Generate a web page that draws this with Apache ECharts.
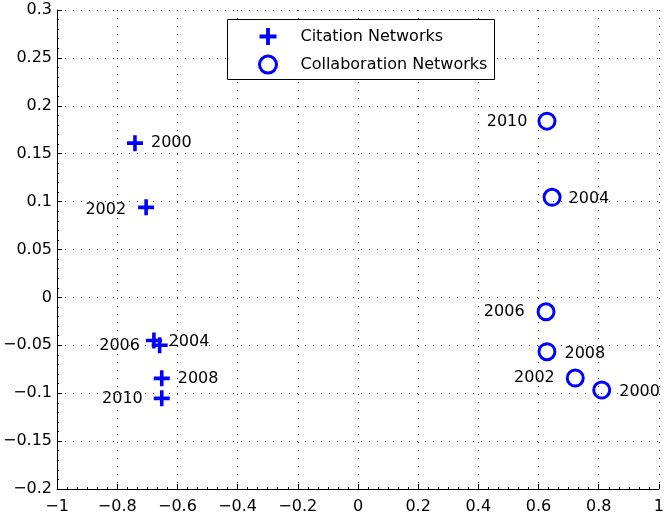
<!DOCTYPE html>
<html>
<head>
<meta charset="utf-8">
<script src="https://cdn.jsdelivr.net/npm/echarts@6/dist/echarts.min.js"></script>
<style>
  html, body { margin: 0; padding: 0; background: #fff; }
  #chart { width: 667px; height: 518px; }
</style>
</head>
<body>
<div id="chart"></div>
<script>
// Years shared by both network families
const years = ['2000', '2002', '2004', '2006', '2008', '2010'];

// Citation networks (plus markers)
const citationX = [-0.741, -0.704, -0.659, -0.678, -0.652, -0.652];
const citationY = [0.161, 0.094, -0.050, -0.045, -0.0845, -0.1054];

// Collaboration networks (circle markers)
const collabX = [0.810, 0.722, 0.645, 0.625, 0.628, 0.628];
const collabY = [-0.0967, -0.0842, 0.1045, -0.015, -0.0567, 0.184];

// Axis ranges and steps
const xRange = [-1, 1, 0.2];
const yRange = [-0.2, 0.3, 0.05];

// Where each year label sits next to its marker: [side, distance, vertical shift]
const citationLabelPlacement = {
  '2000': ['right', 8, 0], '2002': ['left', 12, 2], '2004': ['right', 1, -3],
  '2006': ['left', 6, 5], '2008': ['right', 8, 0], '2010': ['left', 11, 0]
};
const collabLabelPlacement = {
  '2000': ['right', 8, 2], '2002': ['left', 11, 0], '2004': ['right', 7, 2],
  '2006': ['left', 12, 0], '2008': ['right', 8, 2], '2010': ['left', 10, 1]
};

const FONT = 'DejaVu Sans';
const FS = 16;
const BLUE = '#0000ff';
const PLUS = 'path://M6.2,0H9.8V6.2H16V9.8H9.8V16H6.2V9.8H0V6.2H6.2Z';

function buildPoints(xs, ys, placement) {
  return years.map((yr, i) => {
    const p = placement[yr];
    return {
      value: [xs[i], ys[i]],
      name: yr,
      label: { position: p[0], distance: p[1], offset: [0, p[2]] }
    };
  });
}

function tickText(v) {
  const s = String(parseFloat(v.toFixed(4)));
  return s.replace('-', '\u2212');
}

const gridLine = { show: true, lineStyle: { color: '#333', width: 1, type: [1, 7] } };

const chart = echarts.init(document.getElementById('chart'));
chart.setOption({
  animation: false,
  backgroundColor: '#fff',
  textStyle: { fontFamily: FONT },
  grid: { left: 57, right: 5, top: 10, bottom: 29, containLabel: false },
  xAxis: {
    type: 'value', min: xRange[0], max: xRange[1], interval: xRange[2],
    axisLine: { show: true, onZero: false, lineStyle: { color: '#000', width: 1 } },
    axisTick: { show: true, inside: true, length: 5, lineStyle: { color: '#000' } },
    minorTick: { show: true, splitNumber: 6, length: 2, lineStyle: { color: '#000' } },
    axisLabel: { color: '#000', fontSize: FS, fontFamily: FONT, margin: 10, formatter: tickText },
    splitLine: gridLine
  },
  yAxis: {
    type: 'value', min: yRange[0], max: yRange[1], interval: yRange[2],
    axisLine: { show: true, onZero: false, lineStyle: { color: '#000', width: 1 } },
    axisTick: { show: true, inside: true, length: 5, lineStyle: { color: '#000' } },
    minorTick: { show: true, splitNumber: 5, length: 2, lineStyle: { color: '#000' } },
    axisLabel: { color: '#000', fontSize: FS, fontFamily: FONT, margin: 5, formatter: tickText },
    splitLine: gridLine
  },
  graphic: [{
    type: 'rect', z: 10,
    shape: { x: 227.5, y: 19.5, width: 267, height: 60 },
    style: { fill: '#fff', stroke: '#000', lineWidth: 1 }
  }],
  legend: {
    z: 20, orient: 'vertical', left: 258, top: 28, padding: 0,
    itemWidth: 17, itemHeight: 17, itemGap: 9.6,
    textStyle: { color: '#000', fontSize: FS, fontFamily: FONT, lineHeight: 17, padding: [0, 0, 0, 19] },
    data: [
      { name: 'Citation Networks', icon: PLUS, itemStyle: { color: BLUE } },
      { name: 'Collaboration Networks', icon: 'circle',
        itemStyle: { color: 'rgba(0,0,0,0)', borderColor: BLUE, borderWidth: 3 } }
    ]
  },
  series: [
    {
      name: 'Citation Networks', type: 'scatter', symbol: PLUS, symbolSize: 16,
      itemStyle: { color: BLUE, opacity: 1 },
      label: { show: true, formatter: '{b}', color: '#000', fontSize: FS, fontFamily: FONT },
      data: buildPoints(citationX, citationY, citationLabelPlacement)
    },
    {
      name: 'Collaboration Networks', type: 'scatter', symbol: 'circle', symbolSize: 16,
      itemStyle: { color: 'rgba(0,0,0,0)', borderColor: BLUE, borderWidth: 3, opacity: 1 },
      label: { show: true, formatter: '{b}', color: '#000', fontSize: FS, fontFamily: FONT },
      data: buildPoints(collabX, collabY, collabLabelPlacement)
    }
  ]
});
</script>
</body>
</html>
